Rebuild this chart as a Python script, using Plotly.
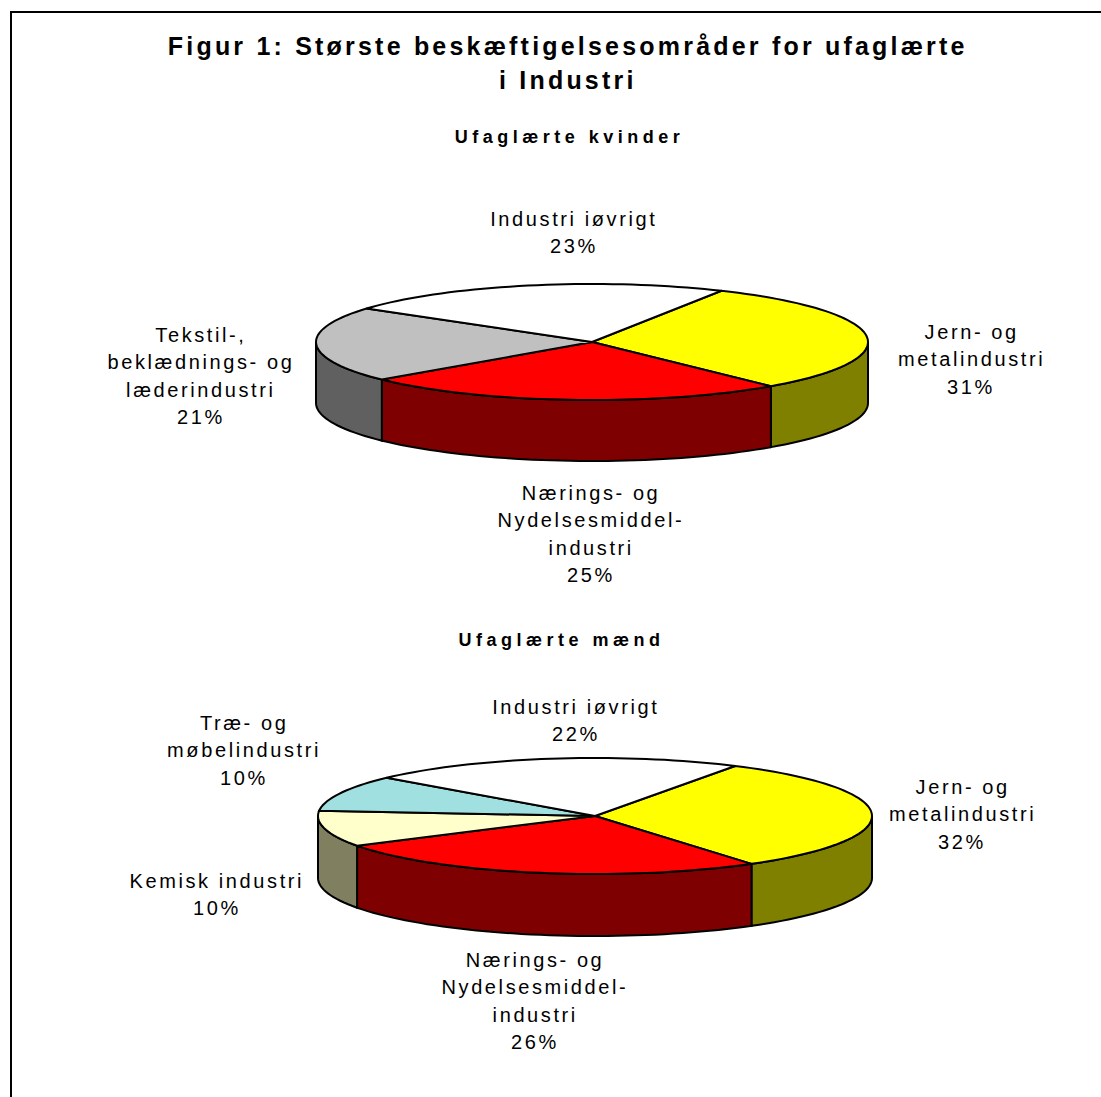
import math
import plotly.graph_objects as go

title_lines = ["Figur 1: Største beskæftigelsesområder for ufaglærte", "i Industri"]
sub_women = "Ufaglærte kvinder"
sub_men = "Ufaglærte mænd"

women_labels = [["Jern- og", "metalindustri"], ["Nærings- og", "Nydelsesmiddel-", "industri"],
                ["Tekstil-,", "beklædnings- og", "læderindustri"], ["Industri iøvrigt"]]
women_values = [31, 25, 21, 23]
men_labels = [["Jern- og", "metalindustri"], ["Nærings- og", "Nydelsesmiddel-", "industri"],
              ["Kemisk industri"], ["Træ- og", "møbelindustri"], ["Industri iøvrigt"]]
men_values = [32, 26, 10, 10, 22]

women_top = ["#FFFF00", "#FF0000", "#C0C0C0", "#FFFFFF"]
women_side = ["#808000", "#7F0000", "#606060", "#808080"]
men_top = ["#FFFF00", "#FF0000", "#FFFFCC", "#A0E0E0", "#FFFFFF"]
men_side = ["#808000", "#7F0000", "#808060", "#507070", "#808080"]

# label layout: centre x and first-line y for each slice
women_pos = [(971, 332), (591, 493), (201, 335), (574, 219)]
men_pos = [(962, 787), (535, 960), (217, 881), (244, 723), (576, 707)]

LINE = 27.3
fig = go.Figure()


def arc(cx, cy, rx, ry, a0, a1, dy=0):
    n = max(2, int(abs(a1 - a0) / 2) + 1)
    out = []
    for i in range(n + 1):
        t = math.radians(a0 + (a1 - a0) * i / n)
        out.append((cx + rx * math.sin(t), cy - ry * math.cos(t) + dy))
    return out


def add_poly(pts, color):
    fig.add_trace(go.Scatter(x=[p[0] for p in pts], y=[p[1] for p in pts], mode="lines",
                             fill="toself", fillcolor=color,
                             line=dict(color="black", width=2, simplify=False),
                             hoverinfo="skip", showlegend=False))


def pie3d(values, tops, sides, cx, cy, rx, ry, depth, start):
    total = sum(values)
    spans = []
    a = start
    for v in values:
        b = a + 360 * v / total
        spans.append((a, b))
        a = b
    for (a0, a1), col in zip(spans, sides):
        lo, hi = max(a0, 90), min(a1, 270)
        if lo < hi:
            add_poly(arc(cx, cy, rx, ry, lo, hi) + arc(cx, cy, rx, ry, hi, lo, depth)
                     + arc(cx, cy, rx, ry, lo, lo + 1e-6)[:1], col)
    for (a0, a1), col in zip(spans, tops):
        add_poly([(cx, cy)] + arc(cx, cy, rx, ry, a0, a1) + [(cx, cy)], col)


pie3d(women_values, women_top, women_side, 592, 342, 276, 58, 61, 28)
pie3d(men_values, men_top, men_side, 595, 816, 277, 58, 62, 30.4)

annotations = []


def put(text, x, y, size=20, bold=False):
    annotations.append(dict(text=text, x=x, y=y, xref="x", yref="y", showarrow=False,
                            xanchor="center", yanchor="middle",
                            font=dict(family="Liberation Sans", size=size, color="black",
                                      weight="bold" if bold else "normal")))


put(title_lines[0], 568, 46, 25, True)
put(title_lines[1], 568, 80, 25, True)
put(sub_women, 569, 137, 18, True)
put(sub_men, 561, 640, 18, True)

for labels, values, pos in ((women_labels, women_values, women_pos), (men_labels, men_values, men_pos)):
    for lab, v, (x, y) in zip(labels, values, pos):
        for i, t in enumerate(lab + [f"{v}%"]):
            put(t, x, y + i * LINE)

fig.update_layout(
    width=1101, height=1097, margin=dict(l=0, r=0, t=0, b=0),
    paper_bgcolor="white", plot_bgcolor="white", showlegend=False,
    xaxis=dict(range=[0, 1101], visible=False, fixedrange=True),
    yaxis=dict(range=[1097, 0], visible=False, fixedrange=True),
    annotations=annotations,
    shapes=[
        dict(type="line", xref="x", yref="y", x0=11, y0=12, x1=1101, y1=12, line=dict(color="black", width=2)),
        dict(type="line", xref="x", yref="y", x0=11, y0=11, x1=11, y1=1097, line=dict(color="black", width=2)),
    ],
)

post = """
document.body.style.margin = '0';
document.querySelectorAll('.annotation-text').forEach(function (t) {
  var s = parseFloat(t.style.fontSize);
  t.style.letterSpacing = (s >= 24 ? 3.2 : (s === 18 ? 4.5 : 2.6)) + 'px';
});
"""
fig.write_html("out.html", post_script=post, config={"displayModeBar": False})
